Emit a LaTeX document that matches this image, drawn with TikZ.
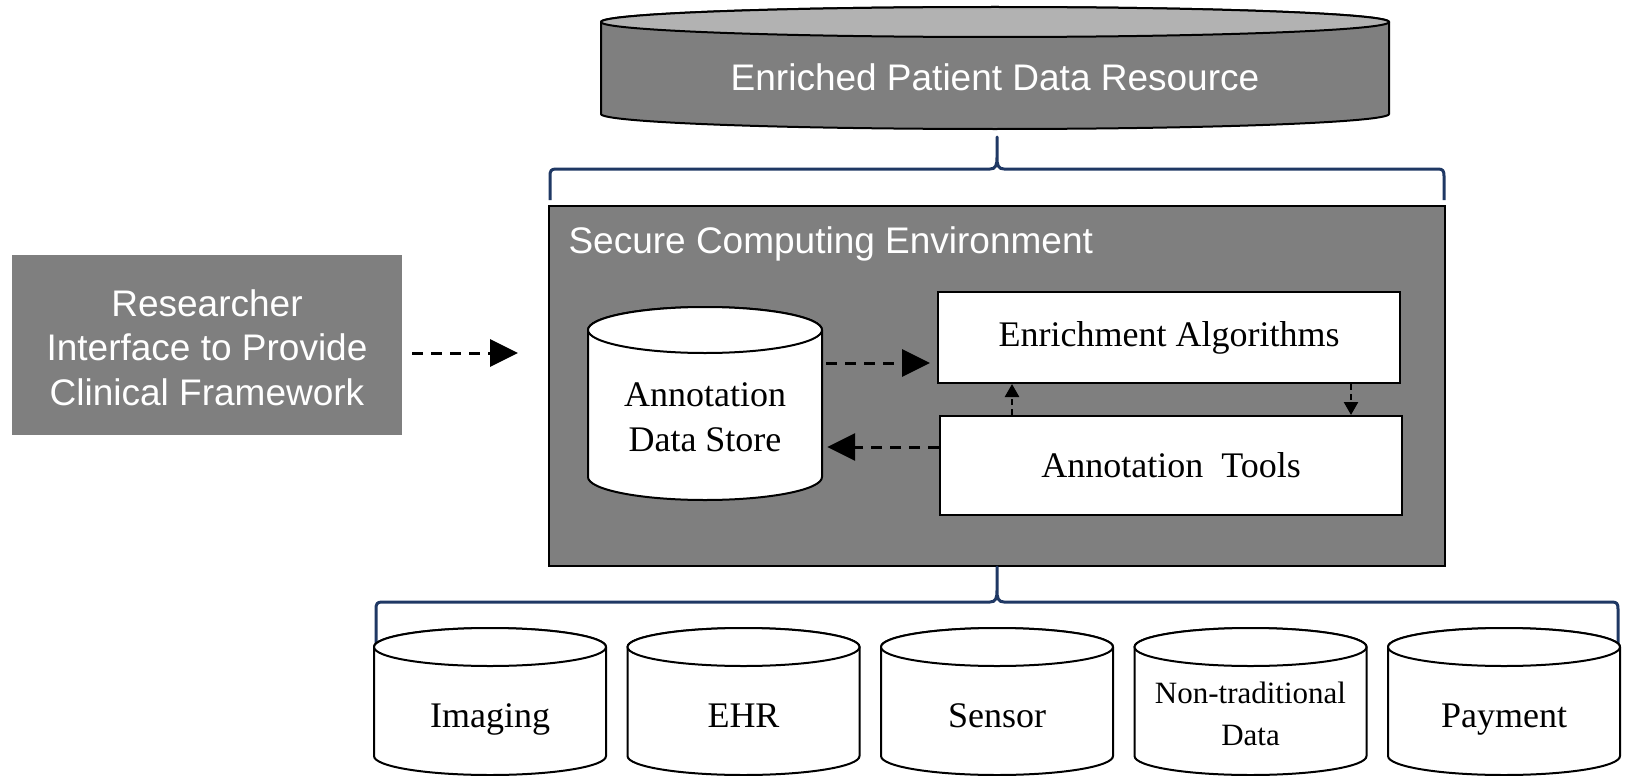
\documentclass[tikz,border=0pt]{standalone}
\usepackage{fontspec}
\setmainfont{Liberation Serif}
\newfontfamily\arialf{Liberation Sans}
\usetikzlibrary{arrows.meta,calc}
\definecolor{boxgray}{HTML}{7F7F7F}
\definecolor{capgray}{HTML}{B2B2B2}
\definecolor{bracenavy}{HTML}{1F3864}

% curly brace: left x, right x, bar y, foot y, tip x, tip y (all measured downwards)
\newcommand\drawbrace[6]{%
  \draw[bracestyle] (#1,-#4) -- (#1,-#3-7)
    .. controls (#1,-#3-2) and (#1+1,-#3) .. (#1+6,-#3)
    -- (#5-7,-#3) .. controls (#5-1,-#3) and (#5,-#3+4) .. (#5,-#3+12)
    -- (#5,-#6) -- (#5,-#3+12)
    .. controls (#5,-#3+4) and (#5+1,-#3) .. (#5+7,-#3)
    -- (#2-6,-#3) .. controls (#2-1,-#3) and (#2,-#3-2) .. (#2,-#3-7)
    -- (#2,-#4);}

\begin{document}
\begin{tikzpicture}[x=1pt,y=1pt,
  cylry/.store in=\cylry, cylry=20pt,
  cylbody/.store in=\cylbody, cylbody=white,
  cylend/.store in=\cylend, cylend=white,
  dbcyl/.style={rectangle, inner sep=0pt, draw=none,
    path picture={
      \draw[line width=2pt, fill=\cylbody]
        let \p1=(path picture bounding box.north west),
            \p2=(path picture bounding box.south east),
            \n1={(\x2-\x1)/2-1.5pt} in
        (\x1+1.5pt,\y1-1.5pt-\cylry) -- (\x1+1.5pt,\y2+1.5pt+\cylry)
        arc[start angle=180,end angle=360,x radius=\n1,y radius=\cylry]
        -- (\x2-1.5pt,\y1-1.5pt-\cylry)
        arc[start angle=0,end angle=180,x radius=\n1,y radius=\cylry] -- cycle;
      \draw[line width=2pt, fill=\cylend]
        let \p1=(path picture bounding box.north west),
            \p2=(path picture bounding box.south east),
            \n1={(\x2-\x1)/2-1.5pt} in
        (\x1+1.5pt,\y1-1.5pt-\cylry)
        arc[start angle=180,end angle=540,x radius=\n1,y radius=\cylry];
    }},
  sansw/.style={font=\arialf\fontsize{37}{44.5}\selectfont, text=white},
  serifl/.style={font=\fontsize{36}{45}\selectfont},
  plainbox/.style={draw, line width=2pt, fill=white, inner sep=0pt, serifl},
  dasharrow/.style={line width=3pt, dash pattern=on 11pt off 8pt,
    -{Triangle[length=28pt,width=27pt]}},
  dashsmall/.style={line width=2.5pt, dash pattern=on 6pt off 4pt,
    -{Triangle[length=13pt,width=14pt]}},
  bracestyle/.style={line width=3pt, draw=bracenavy, line join=round, line cap=butt}
]
\useasboundingbox (0,0) rectangle (1625,-776);
\fill[white] (0,0) rectangle (1625,-776);

% combined resource at the top
\node[dbcyl, cylry=15pt, cylbody=boxgray, cylend=capgray,
      minimum width=791pt, minimum height=125pt] (epdr) at (995,-68) {};
\node[sansw, anchor=base] (epdrlabel) at (995,-90) {Enriched Patient Data Resource};

% secure environment
\node[draw, line width=2pt, fill=boxgray, minimum width=896pt, minimum height=360pt]
  (sce) at (997,-386) {};
\node[sansw, anchor=base west] (scetitle) at (565,-253) {Secure Computing Environment};

\node[dbcyl, cylry=23pt, minimum width=237pt, minimum height=196pt] (store) at (705,-403.5) {};
\node[serifl, align=center] (storelabel) at (705,-417) {Annotation\\Data Store};

\node[plainbox, minimum width=462pt, minimum height=91pt] (enrich) at (1169,-337.5)
  {Enrichment Algorithms};
\node[plainbox, minimum width=462pt, minimum height=99pt] (tools) at (1171,-465.5)
  {Annotation\ \ Tools};

% researcher interface
\node[fill=boxgray, minimum width=390pt, minimum height=180pt, align=center, sansw]
  (res) at (207,-345) {};
\node[sansw, align=center] (reslabel) at (207,-347.5)
  {Researcher\\Interface to Provide\\Clinical Framework};

% connectors
\coordinate (r2s) at ([yshift=-8pt]res.east);
\draw[dasharrow, shorten <=10pt, shorten >=30pt] (r2s) -- (sce.west |- r2s);

\coordinate (s2e) at ([yshift=-25.5pt]enrich.west);
\draw[dasharrow, shorten <=2.5pt, shorten >=7pt] (store.east |- s2e) -- (s2e);

\coordinate (t2s) at ([yshift=18.5pt]tools.west);
\draw[dasharrow, shorten >=3.5pt] (t2s) -- (store.east |- t2s);

\coordinate (t2e) at ([xshift=-159pt]tools.north);
\draw[dashsmall] (t2e) -- (enrich.south -| t2e);

\coordinate (e2t) at ([xshift=182pt]enrich.south);
\draw[dashsmall] (e2t) -- (tools.north -| e2t);

% braces
\drawbrace{550}{1444}{169}{200}{997}{137}
\drawbrace{376}{1618}{602}{645}{997}{567}

% source data stores
\node[dbcyl, cylry=19pt, minimum width=235pt, minimum height=150pt] (imaging) at (490,-701.5) {};
\node[dbcyl, cylry=19pt, minimum width=235pt, minimum height=150pt] (ehr) at (743.5,-701.5) {};
\node[dbcyl, cylry=19pt, minimum width=235pt, minimum height=150pt] (sensor) at (997,-701.5) {};
\node[dbcyl, cylry=19pt, minimum width=235pt, minimum height=150pt] (nontrad) at (1250.5,-701.5) {};
\node[dbcyl, cylry=19pt, minimum width=235pt, minimum height=150pt] (payment) at (1504,-701.5) {};

\node[serifl, anchor=base] (imaginglabel) at (490,-727) {Imaging};
\node[serifl, anchor=base] (ehrlabel) at (743.5,-727) {EHR};
\node[serifl, anchor=base] (sensorlabel) at (997,-727) {Sensor};
\node[font=\fontsize{31}{42}\selectfont, align=center] (nontradlabel) at (1250.5,-714)
  {Non-traditional\\Data};
\node[serifl, anchor=base] (paymentlabel) at (1504,-727) {Payment};
\end{tikzpicture}
\end{document}
